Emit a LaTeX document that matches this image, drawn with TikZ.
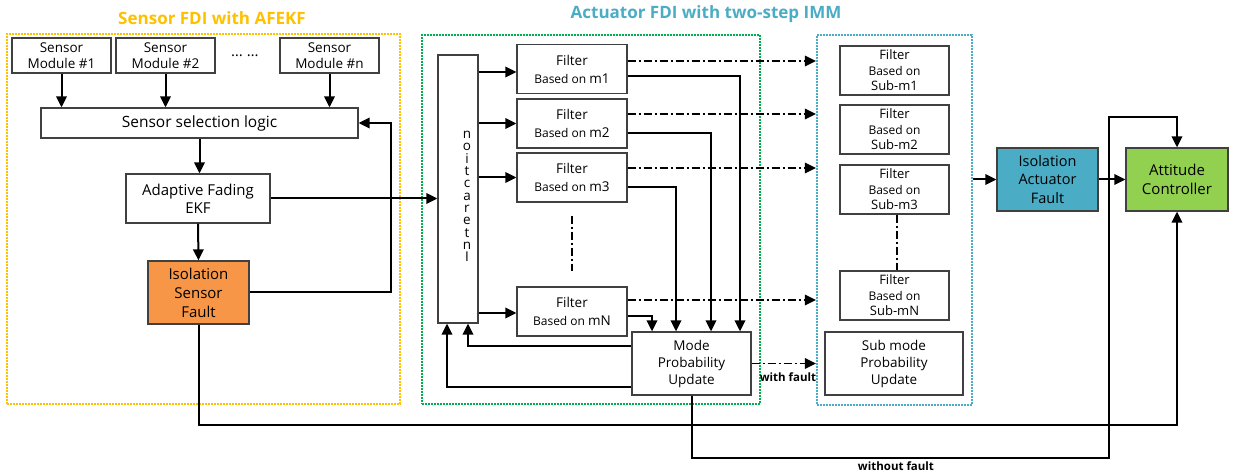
\documentclass[tikz,border=0pt]{standalone}
\usepackage{fontspec}
\setmainfont{Open Sans}
\usetikzlibrary{arrows.meta}
\definecolor{ygold}{HTML}{FFC000}
\definecolor{ggreen}{HTML}{00B050}
\definecolor{bblue}{HTML}{4BACC6}
\definecolor{iorange}{HTML}{F79646}
\definecolor{lgreen}{HTML}{92D050}
\definecolor{bord}{HTML}{404040}
\begin{document}
\begin{tikzpicture}[x=1pt,y=-1pt,
 box/.style={draw=bord, line width=1.3pt, inner sep=0pt, align=center, fill=white},
 arr/.style={line width=2pt, -{Triangle[length=11pt,width=10.5pt]}},
 dda/.style={line width=1.7pt, dash pattern=on 8pt off 3pt on 2pt off 3pt, -{Triangle[length=11pt,width=10.5pt]}},
 ddl/.style={line width=1.7pt, dash pattern=on 8pt off 3pt on 2pt off 3pt},
 frame/.style={line width=2.3pt, dash pattern=on 2pt off 1pt, inner sep=0pt},
 ttl/.style={font=\fontsize{17}{20}\selectfont\bfseries},
 lbl/.style={font=\fontsize{11.5}{13}\selectfont\bfseries},
 smod/.style={box, minimum width=99pt, minimum height=35pt, font=\fontsize{13.5}{16}\selectfont},
 filt/.style={box, minimum width=110pt, minimum height=49pt, font=\fontsize{13.5}{18}\selectfont},
 sfilt/.style={box, minimum width=109pt, minimum height=49pt, font=\fontsize{13}{15.5}\selectfont},
 three/.style={box, minimum width=101pt, minimum height=63pt, font=\fontsize{15}{19}\selectfont},
]
\useasboundingbox (0,0) rectangle (1235,473);

% frames and titles
\node[frame, draw=ygold, minimum width=393pt, minimum height=370pt] (yframe) at (203.5,219) {};
\node[frame, draw=ggreen, minimum width=338pt, minimum height=369pt] (gframe) at (591,219.5) {};
\node[frame, draw=bblue, minimum width=155pt, minimum height=370pt] (bframe) at (894.5,220) {};
\node[ttl, text=ygold] (t1) at (212,18) {Sensor FDI with AFEKF};
\node[ttl, text=bblue] (t2) at (706,14) {Actuator FDI with two-step IMM};

% sensor part
\node[smod] (sm1) at (61.5,55.5) {Sensor\\Module \#1};
\node[smod] (sm2) at (165.5,55.5) {Sensor\\Module \#2};
\node[smod] (smn) at (329.5,55.5) {Sensor\\Module \#n};
\node[font=\fontsize{15}{16}\selectfont] (dots) at (245,56) {…\hspace{4pt}…};
\node[box, minimum width=317pt, minimum height=30pt, font=\fontsize{15.5}{18}\selectfont] (ssl) at (199.5,123) {Sensor selection logic};
\node[box, minimum width=144pt, minimum height=49pt, font=\fontsize{15}{18}\selectfont] (afekf) at (198,198.5) {Adaptive Fading\\EKF};
\node[three, fill=iorange] (isf) at (198.5,292.5) {Isolation\\Sensor\\Fault};

\draw[arr] (sm1.south) -- (sm1.south |- ssl.north);
\draw[arr] (sm2.south) -- (sm2.south |- ssl.north);
\draw[arr] (smn.south) -- (smn.south |- ssl.north);
\draw[arr] (ssl.south) -- (ssl.south |- afekf.north);
\draw[arr] (afekf.south) -- (isf.north);
\draw[arr] (isf.east) -- ++(141,0) |- (ssl.east);

% actuator part
\node[box, minimum width=40pt, minimum height=268pt] (inter) at (458,189) {};
\node[font=\fontsize{13.5}{12.3}\selectfont, align=center, inner sep=0pt] (ilbl) at (467,196.5) {n\\o\\i\\t\\c\\a\\r\\e\\t\\n\\I};
\node[filt] (f1) at (572,69) {Filter\\{\fontsize{12}{18}\selectfont Based on }m1};
\node[filt] (f2) at (572,123.5) {Filter\\{\fontsize{12}{18}\selectfont Based on }m2};
\node[filt] (f3) at (572,177.5) {Filter\\{\fontsize{12}{18}\selectfont Based on }m3};
\node[filt] (fN) at (572,311.5) {Filter\\{\fontsize{12}{18}\selectfont Based on }mN};
\node[box, minimum width=119pt, minimum height=63pt, font=\fontsize{13.5}{17}\selectfont] (mpu) at (691.5,363.5) {Mode\\Probability\\Update};

\draw[arr] (afekf.east) -- (afekf.east -| inter.west);
\draw[arr] ([yshift=-3pt]inter.east |- f1.west) -- ([yshift=-3pt]f1.west);
\draw[arr] (inter.east |- f2.west) -- (f2.west);
\draw[arr] (inter.east |- f3.west) -- (f3.west);
\draw[arr] ([yshift=-1.5pt]inter.east |- fN.west) -- ([yshift=-1.5pt]fN.west);
\draw[ddl] ([yshift=-13pt]f3.south) -- ([yshift=15pt]fN.north);

\draw[arr] ([yshift=-7pt]f1.east) -| ([xshift=48.5pt]mpu.north);
\draw[arr] ([yshift=-9.5pt]f2.east) -| ([xshift=19.5pt]mpu.north);
\draw[arr] ([yshift=-9.5pt]f3.east) -| ([xshift=-15.5pt]mpu.north);
\draw[arr] ([yshift=-4.5pt]fN.east) -| ([xshift=-39.5pt]mpu.north);

\draw[arr] ([yshift=17.5pt]mpu.west) -| ([xshift=10pt]inter.south);
\draw[arr] ([yshift=-23.5pt]mpu.west) -| ([xshift=-11pt]inter.south);

% sub filters
\node[sfilt] (s1) at (894.5,70.5) {Filter\\{\fontsize{12}{15.5}\selectfont Based on}\\Sub-m1};
\node[sfilt] (s2) at (894.5,129.5) {Filter\\{\fontsize{12}{15.5}\selectfont Based on}\\Sub-m2};
\node[sfilt] (s3) at (894.5,189.5) {Filter\\{\fontsize{12}{15.5}\selectfont Based on}\\Sub-m3};
\node[sfilt] (sN) at (894.5,295.5) {Filter\\{\fontsize{12}{15.5}\selectfont Based on}\\Sub-mN};
\node[box, minimum width=138pt, minimum height=63pt, font=\fontsize{13.5}{17}\selectfont] (smpu) at (894,363.5) {Sub mode\\Probability\\Update};
\draw[ddl] ([xshift=2.5pt]s3.south) -- ([xshift=2.5pt]sN.north);

\draw[dda] ([yshift=8pt]f1.east) -- ([yshift=8pt]f1.east -| bframe.west);
\draw[dda] ([yshift=9.5pt]f2.east) -- ([yshift=9.5pt]f2.east -| bframe.west);
\draw[dda] ([yshift=9.5pt]f3.east) -- ([yshift=9.5pt]f3.east -| bframe.west);
\draw[dda] ([yshift=11.5pt]fN.east) -- ([yshift=11.5pt]fN.east -| bframe.west);
\draw[dda] (mpu.east) -- (mpu.east -| bframe.west);
\node[lbl] (wf) at (788,377) {with fault};

% isolation / controller
\node[three, fill=bblue, font=\fontsize{14.5}{18.5}\selectfont] (iaf) at (1047.5,179.5) {Isolation\\Actuator\\Fault};
\node[three, fill=lgreen, minimum width=102pt, font=\fontsize{15}{19}\selectfont] (ac) at (1177,179.5) {Attitude\\Controller};
\draw[arr] (bframe.east |- iaf.west) -- (iaf.west);
\draw[arr] (iaf.east) -- (ac.west);

\coordinate (jog) at (1109,117);
\draw[arr] (isf.south) -- ++(0,100) -| (ac.south);
\draw[arr] (mpu.south) -- ++(0,62) -| (jog) -| (ac.north);
\node[lbl] (wof) at (896,466) {without fault};
\end{tikzpicture}
\end{document}
